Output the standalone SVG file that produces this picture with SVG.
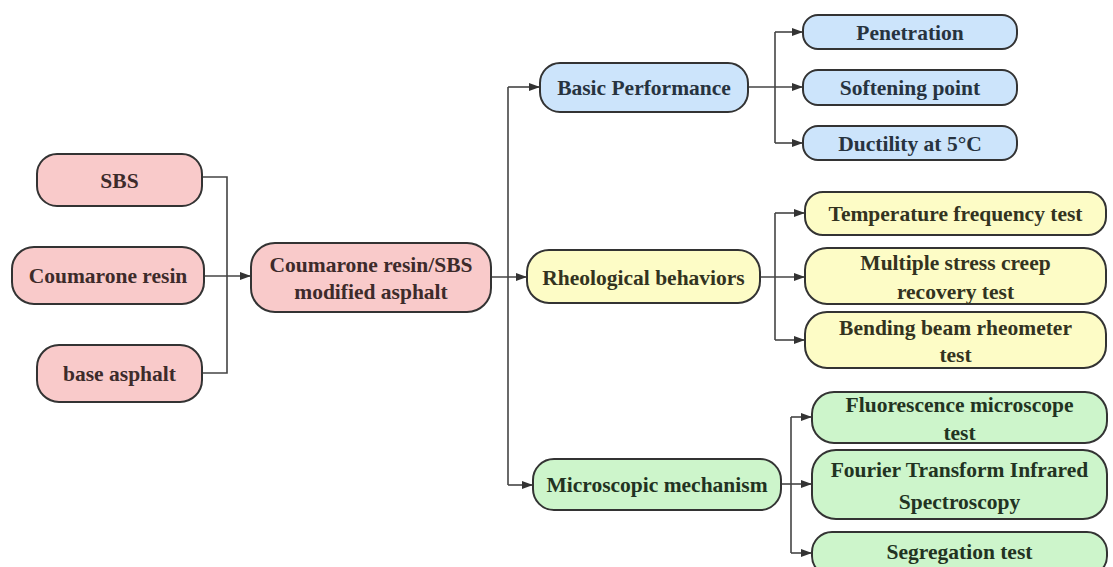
<svg xmlns="http://www.w3.org/2000/svg" width="1113" height="567" viewBox="0 0 1113 567">
<style>
.box{stroke:#333;stroke-width:2}
.pink{fill:#f9caca}
.blue{fill:#cce4fb}
.yellow{fill:#fdfcc6}
.green{fill:#cdf5cb}
text{font-family:"Liberation Serif","Times New Roman",serif;font-weight:bold;font-size:21.5px;text-anchor:middle}
.tp{fill:#3d2b2b}
.tb{fill:#27333f}
.ty{fill:#33331f}
.tg{fill:#223322}
.ln{fill:none;stroke:#444;stroke-width:1.6}
</style>
<defs>
<marker id="ah" markerWidth="11" markerHeight="8" refX="10" refY="4" orient="auto" markerUnits="userSpaceOnUse">
<path d="M0,0 L11,4 L0,8 z" fill="#333"/>
</marker>
</defs>
<rect width="1113" height="567" fill="#fff"/>
<g id="connectors">
<path class="ln" d="M202,177 H227 V373 H202"/>
<path class="ln" d="M204,276 H250" marker-end="url(#ah)"/>
<path class="ln" d="M491,277 H526" marker-end="url(#ah)"/>
<path class="ln" d="M508,87 V485"/>
<path class="ln" d="M508,87 H539" marker-end="url(#ah)"/>
<path class="ln" d="M508,485 H532" marker-end="url(#ah)"/>
<path class="ln" d="M748,87 H802" marker-end="url(#ah)"/>
<path class="ln" d="M775,32 V143"/>
<path class="ln" d="M775,32 H802" marker-end="url(#ah)"/>
<path class="ln" d="M775,143 H802" marker-end="url(#ah)"/>
<path class="ln" d="M760,277 H804" marker-end="url(#ah)"/>
<path class="ln" d="M775,213 V340"/>
<path class="ln" d="M775,213 H804" marker-end="url(#ah)"/>
<path class="ln" d="M775,340 H804" marker-end="url(#ah)"/>
<path class="ln" d="M781,484 H811" marker-end="url(#ah)"/>
<path class="ln" d="M791,417 V553"/>
<path class="ln" d="M791,417 H811" marker-end="url(#ah)"/>
<path class="ln" d="M791,553 H811" marker-end="url(#ah)"/>
</g>
<g id="sbs"><rect class="box pink" x="37" y="154" width="165" height="52" rx="20"/><text class="tp" x="119.5" y="187.5">SBS</text></g>
<g id="coumarone"><rect class="box pink" x="12" y="247" width="192" height="57" rx="22"/><text class="tp" x="108" y="283">Coumarone resin</text></g>
<g id="base"><rect class="box pink" x="37" y="345" width="165" height="57" rx="22"/><text class="tp" x="119.5" y="381">base asphalt</text></g>
<g id="modified"><rect class="box pink" x="251" y="243" width="240" height="69" rx="24"/><text class="tp" x="371" y="272">Coumarone resin/SBS</text><text class="tp" x="371" y="299">modified asphalt</text></g>
<g id="basic"><rect class="box blue" x="540" y="63" width="208" height="49" rx="20"/><text class="tb" x="644" y="94.5">Basic Performance</text></g>
<g id="penetration"><rect class="box blue" x="803" y="15" width="214" height="34" rx="15"/><text class="tb" x="910" y="39.5">Penetration</text></g>
<g id="softening"><rect class="box blue" x="803" y="70" width="214" height="35" rx="15"/><text class="tb" x="910" y="94.5">Softening point</text></g>
<g id="ductility"><rect class="box blue" x="803" y="126" width="214" height="34" rx="15"/><text class="tb" x="910" y="150.5">Ductility at 5°C</text></g>
<g id="rheological"><rect class="box yellow" x="527" y="250" width="233" height="53" rx="22"/><text class="ty" x="643.5" y="284.5">Rheological behaviors</text></g>
<g id="temperature"><rect class="box yellow" x="805" y="192" width="301" height="43" rx="18"/><text class="ty" x="955.5" y="220.5">Temperature frequency test</text></g>
<g id="mscr"><rect class="box yellow" x="805" y="248" width="301" height="56" rx="22"/><text class="ty" x="955.5" y="270">Multiple stress creep</text><text class="ty" x="955.5" y="299">recovery test</text></g>
<g id="bbr"><rect class="box yellow" x="805" y="312" width="301" height="56" rx="22"/><text class="ty" x="955.5" y="335">Bending beam rheometer</text><text class="ty" x="955.5" y="362">test</text></g>
<g id="microscopic"><rect class="box green" x="533" y="459" width="248" height="51" rx="21"/><text class="tg" x="657" y="491.5">Microscopic mechanism</text></g>
<g id="fluorescence"><rect class="box green" x="812" y="392" width="295" height="51" rx="22"/><text class="tg" x="959.5" y="412">Fluorescence microscope</text><text class="tg" x="959.5" y="440">test</text></g>
<g id="ftir"><rect class="box green" x="812" y="450" width="295" height="69" rx="24"/><text class="tg" x="959.5" y="477">Fourier Transform Infrared</text><text class="tg" x="959.5" y="509">Spectroscopy</text></g>
<g id="segregation"><rect class="box green" x="812" y="532" width="295" height="44" rx="20"/><text class="tg" x="959.5" y="559">Segregation test</text></g>
</svg>
